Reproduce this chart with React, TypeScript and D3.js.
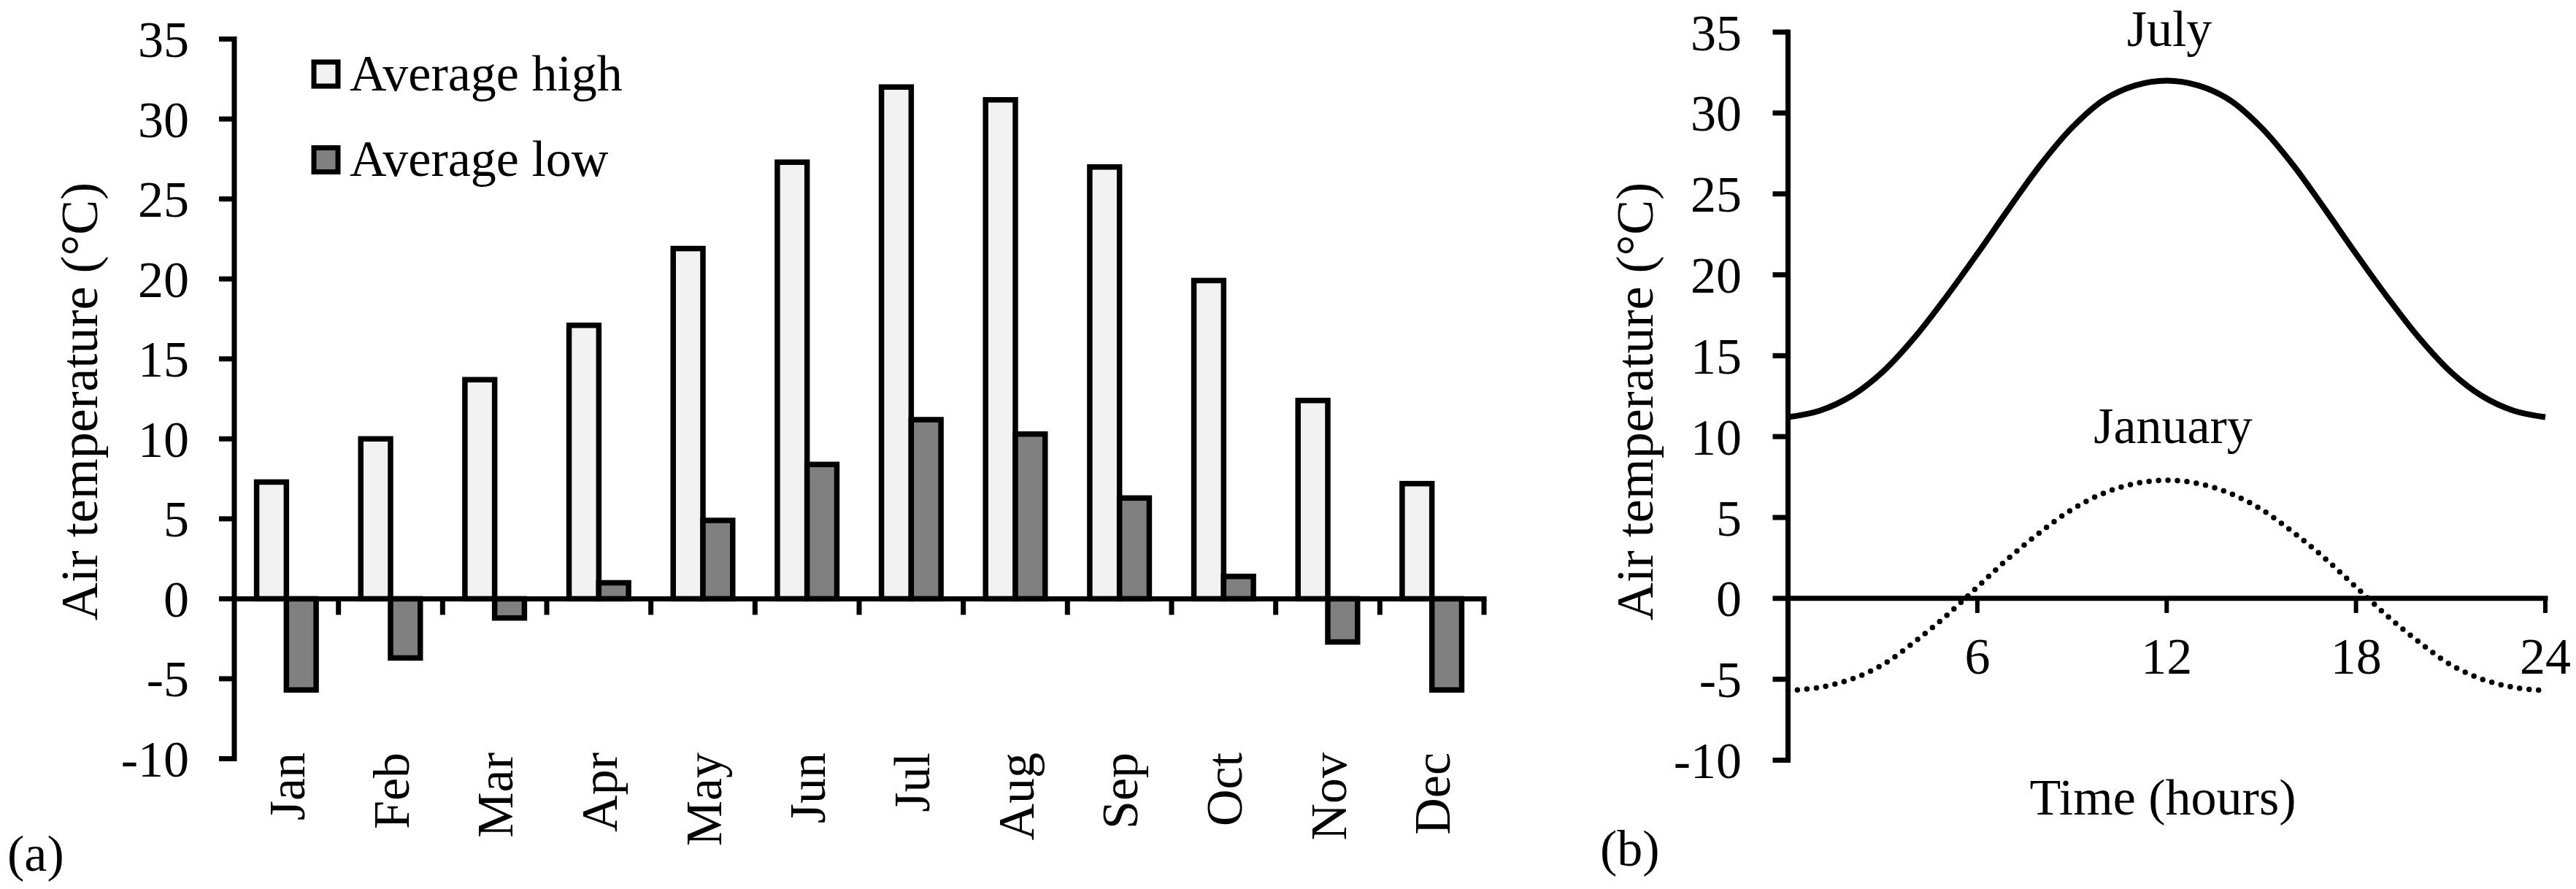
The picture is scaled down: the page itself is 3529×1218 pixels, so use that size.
import React from "react";
import * as d3 from "d3";

const months = ["Jan", "Feb", "Mar", "Apr", "May", "Jun", "Jul", "Aug", "Sep", "Oct", "Nov", "Dec"];
const avgHigh = [7.3, 10.0, 13.7, 17.1, 21.9, 27.3, 32.0, 31.2, 27.0, 19.9, 12.4, 7.2];
const avgLow = [-5.7, -3.7, -1.2, 1.0, 4.9, 8.4, 11.2, 10.3, 6.3, 1.4, -2.7, -5.7];
const seriesNames = ["Average high", "Average low"];
const seriesFills = ["#f2f2f2", "#808080"];

const yTicks = [-10, -5, 0, 5, 10, 15, 20, 25, 30, 35];
const hourTicks = [6, 12, 18, 24];
const hours = [0, 1, 2, 3, 4, 5, 6, 7, 8, 9, 10, 11, 12, 13, 14, 15, 16, 17, 18, 19, 20, 21, 22, 23, 24];
const julyTemps = [11.2, 11.6, 12.5, 14.0, 16.1, 18.6, 21.3, 24.1, 26.8, 29.1, 30.8, 31.7, 32.0, 31.7, 30.8, 29.1, 26.8, 24.1, 21.3, 18.6, 16.1, 14.0, 12.5, 11.6, 11.2];
const januaryTemps = [-5.7, -5.5, -5.0, -4.1, -2.7, -1.1, 0.7, 2.5, 4.1, 5.5, 6.5, 7.1, 7.3, 7.1, 6.5, 5.5, 4.1, 2.5, 0.7, -1.1, -2.7, -4.1, -5.0, -5.5, -5.7];

const FONT = '"Liberation Serif", "Times New Roman", serif';
const FS = 70;
const AX = 7;

export default function App() {
  const W = 3529;
  const H = 1218;

  // Panel (a)
  const xA = d3.scaleBand<string>().domain(months).range([321, 2033]).paddingInner(0).paddingOuter(0);
  const xInner = d3.scaleBand<string>().domain(["high", "low"]).range([0, xA.bandwidth()]).paddingInner(0).paddingOuter(0.75);
  const yA = d3.scaleLinear().domain([-10, 35]).range([1039.5, 53.5]);
  const axA = 321;

  // Panel (b)
  const xB = d3.scaleLinear().domain([0, 24]).range([2449.5, 3487]);
  const yB = d3.scaleLinear().domain([-10, 35]).range([1041.5, 44]);

  const lineGen = d3
    .line<number>()
    .x((_, i) => xB(hours[i]))
    .y((d) => yB(d))
    .curve(d3.curveCatmullRom.alpha(0.5));

  const barRect = (m: string, key: string, v: number, fill: string) => {
    const x = (xA(m) as number) + (xInner(key) as number);
    const y0 = yA(0);
    const y1 = yA(v);
    return (
      <rect
        key={m + key}
        x={x}
        y={Math.min(y0, y1)}
        width={xInner.bandwidth()}
        height={Math.abs(y1 - y0)}
        fill={fill}
        stroke="#000"
        strokeWidth={7.5}
      />
    );
  };

  const boundaries = months.map((m) => (xA(m) as number) + xA.bandwidth());

  return (
    <svg
      width={W}
      height={H}
      viewBox={`0 0 ${W} ${H}`}
      style={{ position: "absolute", left: 0, top: 0, background: "#fff", display: "block" }}
      fontFamily={FONT}
      fontSize={FS}
    >
      <rect x={0} y={0} width={W} height={H} fill="#fff" />

      {/* ===== Panel (a) ===== */}
      {months.map((m, i) => barRect(m, "high", avgHigh[i], seriesFills[0]))}
      {months.map((m, i) => barRect(m, "low", avgLow[i], seriesFills[1]))}

      {/* y axis */}
      <line x1={axA} x2={axA} y1={yA(35) - AX / 2} y2={yA(-10) + AX / 2} stroke="#000" strokeWidth={AX} />
      {yTicks.map((t) => (
        <g key={"ya" + t}>
          <line x1={axA - 21} x2={axA} y1={yA(t)} y2={yA(t)} stroke="#000" strokeWidth={AX} />
          <text x={259} y={yA(t)} dy="0.35em" textAnchor="end">
            {t}
          </text>
        </g>
      ))}
      {/* x axis */}
      <line x1={axA} x2={2033 + AX / 2} y1={yA(0)} y2={yA(0)} stroke="#000" strokeWidth={AX} />
      {boundaries.map((b, i) => (
        <line key={"xt" + i} x1={b} x2={b} y1={yA(0)} y2={yA(0) + 22} stroke="#000" strokeWidth={AX} />
      ))}
      {months.map((m) => {
        const cx = (xA(m) as number) + xA.bandwidth() / 2;
        return (
          <text key={"ml" + m} transform={`translate(${cx},1031) rotate(-90)`} textAnchor="end" dy="0.35em">
            {m}
          </text>
        );
      })}
      <text transform="translate(133,550) rotate(-90)" textAnchor="middle" fontSize={72}>
        Air temperature (°C)
      </text>

      {/* legend */}
      {seriesNames.map((s, i) => {
        const cy = [101.5, 219][i];
        return (
          <g key={"lg" + s}>
            <rect x={430} y={cy - 16.5} width={33} height={33} fill={seriesFills[i]} stroke="#000" strokeWidth={AX} />
            <text x={479} y={cy + 22}>
              {s}
            </text>
          </g>
        );
      })}

      <text x={10} y={1193}>(a)</text>

      {/* ===== Panel (b) ===== */}
      <path d={lineGen(julyTemps) || ""} fill="none" stroke="#000" strokeWidth={8} strokeLinejoin="round" />
      <path
        d={lineGen(januaryTemps) || ""}
        fill="none"
        stroke="#000"
        strokeWidth={7.5}
        strokeLinecap="round"
        strokeDasharray="0 13"
      />

      <line x1={xB(0)} x2={xB(0)} y1={yB(35) - AX / 2} y2={yB(-10) + AX / 2} stroke="#000" strokeWidth={AX} />
      {yTicks.map((t) => (
        <g key={"yb" + t}>
          <line x1={xB(0) - 21} x2={xB(0)} y1={yB(t)} y2={yB(t)} stroke="#000" strokeWidth={AX} />
          <text x={2386} y={yB(t)} dy="0.35em" textAnchor="end">
            {t}
          </text>
        </g>
      ))}
      <line x1={xB(0)} x2={xB(24) + AX / 2} y1={yB(0)} y2={yB(0)} stroke="#000" strokeWidth={AX} />
      {hourTicks.map((h) => (
        <g key={"xb" + h}>
          <line x1={xB(h)} x2={xB(h)} y1={yB(0)} y2={yB(0) + 20} stroke="#000" strokeWidth={6} />
          <text x={xB(h)} y={923} textAnchor="middle">
            {h}
          </text>
        </g>
      ))}
      <text x={2963} y={1116} textAnchor="middle">
        Time (hours)
      </text>
      <text transform="translate(2264,550) rotate(-90)" textAnchor="middle" fontSize={72}>
        Air temperature (°C)
      </text>
      <text x={2972} y={63} textAnchor="middle">
        July
      </text>
      <text x={2977} y={607} textAnchor="middle">
        January
      </text>
      <text x={2192} y={1186}>(b)</text>
    </svg>
  );
}
